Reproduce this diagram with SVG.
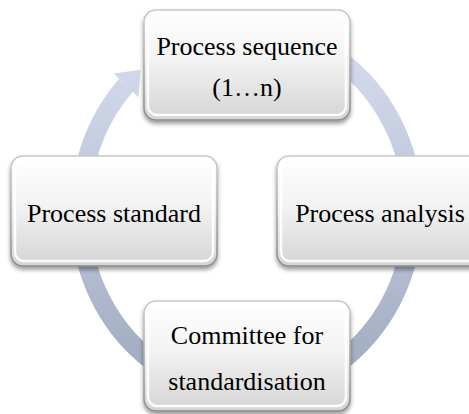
<svg xmlns="http://www.w3.org/2000/svg" width="469" height="414" viewBox="0 0 469 414">
  <defs>
    <!-- blue-grey shade running down the cycle ring -->
    <linearGradient id="ringFill" gradientUnits="userSpaceOnUse" x1="0" y1="30" x2="0" y2="393">
      <stop offset="0" stop-color="#d6ddee"/>
      <stop offset="0.5" stop-color="#bcc5d9"/>
      <stop offset="1" stop-color="#9ea8bd"/>
    </linearGradient>
    <!-- polished white-to-grey box face -->
    <linearGradient id="boxFace" x1="0" y1="0" x2="0" y2="1">
      <stop offset="0" stop-color="#ffffff"/>
      <stop offset="0.45" stop-color="#f3f3f3"/>
      <stop offset="1" stop-color="#d4d4d4"/>
    </linearGradient>
    <linearGradient id="boxRim" x1="0" y1="0" x2="0" y2="1">
      <stop offset="0" stop-color="#c8c8c8"/>
      <stop offset="1" stop-color="#8a8a8a"/>
    </linearGradient>
    <filter id="boxShadow" x="-10%" y="-10%" width="120%" height="130%">
      <feDropShadow dx="0" dy="3" stdDeviation="2" flood-color="#000" flood-opacity="0.4"/>
    </filter>
  </defs>
  <style>
    .box { fill: url(#boxFace); stroke: url(#boxRim); stroke-width: 1.5; filter: url(#boxShadow); }
    .bevel { fill: none; stroke: #ffffff; stroke-width: 2.5; stroke-opacity: 0.9; }
    .label { font-family: "Liberation Serif", "Times New Roman", serif; font-size: 26px; fill: #000; text-anchor: middle; }
    .ring { fill: none; stroke: url(#ringFill); stroke-width: 19; }
    .head { fill: url(#ringFill); }
  </style>

  <rect width="469" height="414" fill="#ffffff"/>

  <!-- cycle ring with arrowhead, drawn behind the boxes -->
  <g id="connectors">
    <path class="ring" d="M 275.4 31.8 A 166.6 182 0 1 1 126.1 85.3"/>
    <polygon class="head" points="113.6,73.4 140.6,69.8 138.4,97.2"/>
  </g>

  <g id="node-sequence">
    <rect class="box" x="144" y="10" width="206" height="110" rx="12"/>
    <rect class="bevel" x="148" y="13" width="198" height="102" rx="9"/>
    <text class="label" x="247" y="55">Process sequence</text>
    <text class="label" x="247" y="96">(1…n)</text>
  </g>

  <g id="node-analysis">
    <rect class="box" x="277" y="156" width="206" height="110" rx="12"/>
    <rect class="bevel" x="281" y="159" width="198" height="102" rx="9"/>
    <text class="label" x="380" y="222">Process analysis</text>
  </g>

  <g id="node-committee">
    <rect class="box" x="144" y="301" width="206" height="110" rx="12"/>
    <rect class="bevel" x="148" y="304" width="198" height="102" rx="9"/>
    <text class="label" x="247" y="344">Committee for</text>
    <text class="label" x="247" y="390">standardisation</text>
  </g>

  <g id="node-standard">
    <rect class="box" x="11" y="156" width="206" height="110" rx="12"/>
    <rect class="bevel" x="15" y="159" width="198" height="102" rx="9"/>
    <text class="label" x="114" y="222">Process standard</text>
  </g>
</svg>
